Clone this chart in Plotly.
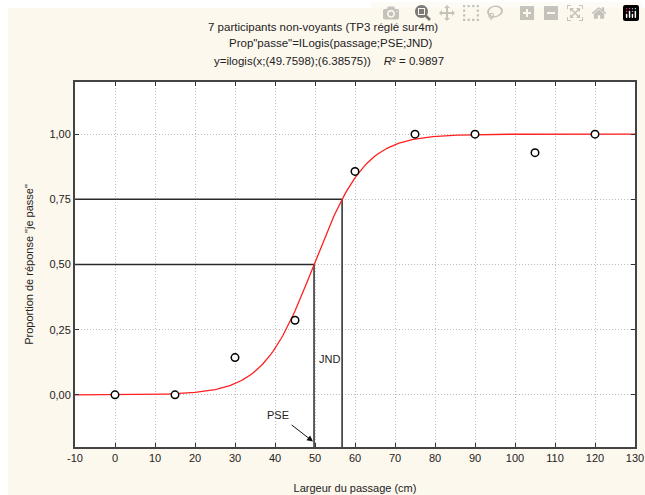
import numpy as np
import plotly.graph_objects as go

# Data
largeur = [0, 15, 30, 45, 60, 75, 90, 105, 120]
proportion = [0.0, 0.0, 0.143, 0.286, 0.857, 1.0, 1.0, 0.929, 1.0]
PSE = 49.7598
JND = 6.38575
x_ticks = [-10, 0, 10, 20, 30, 40, 50, 60, 70, 80, 90, 100, 110, 120, 130]
x_ticklabels = ["-10", "0", "10", "20", "30", "40", "50", "60", "70", "80", "90", "100", "110", "120", "130"]
y_ticks = [0, 0.25, 0.5, 0.75, 1.0]
y_ticklabels = ["0,00", "0,25", "0,50", "0,75", "1,00"]

X_MIN, X_MAX = -10, 130
Y_MIN, Y_MAX = -0.2, 1.2

# fitted logistic curve from the stated parameters
xc = np.linspace(X_MIN, X_MAX, 281)
yc = 1.0 / (1.0 + np.exp(-(xc - PSE) / JND))
x75 = PSE + JND * np.log(3.0)

BG = "#fdf8ee"
FONT = "Liberation Sans, Arial, sans-serif"
LINE = "#2a2a2a"

# figure fills the whole page (body margin removed in post_script)
W, H = 645, 495
PL, PT, PW, PH = 75, 82, 560, 365          # plot area in page pixels
ML, MT = PL, PT
MR, MB = W - ML - PW, H - MT - PH

fig = go.Figure()

# reference lines
fig.add_trace(go.Scatter(x=[X_MIN, x75, x75], y=[0.75, 0.75, Y_MIN], mode="lines",
                         line=dict(color=LINE, width=1.5), hoverinfo="skip", showlegend=False))
fig.add_trace(go.Scatter(x=[X_MIN, PSE, PSE], y=[0.5, 0.5, Y_MIN], mode="lines",
                         line=dict(color=LINE, width=1.5), hoverinfo="skip", showlegend=False))
# curve
fig.add_trace(go.Scatter(x=xc, y=yc, mode="lines", line=dict(color="#ff2020", width=1.3),
                         showlegend=False))
# data
fig.add_trace(go.Scatter(x=largeur, y=proportion, mode="markers",
                         marker=dict(symbol="circle", size=7.5, color="white",
                                     line=dict(color="black", width=1.5)),
                         showlegend=False))

axis_common = dict(showline=True, linecolor="#444", linewidth=2, mirror="ticks",
                   ticks="inside", ticklen=4, tickcolor="#333", tickwidth=1,
                   showgrid=True, gridcolor="#bdbdbd", griddash="1px,2px", gridwidth=1,
                   zeroline=False, automargin=False,
                   tickfont=dict(family=FONT, size=11, color="#222"))

fig.update_xaxes(range=[X_MIN, X_MAX], tickvals=x_ticks, ticktext=x_ticklabels, **axis_common,
                 title=dict(text="Largeur du passage (cm)", font=dict(family=FONT, size=11, color="#222"),
                            standoff=21))
fig.update_yaxes(range=[Y_MIN, Y_MAX], tickvals=y_ticks, ticktext=y_ticklabels, **axis_common,
                 title=dict(text='Proportion de réponse "je passe"', font=dict(family=FONT, size=11, color="#222"),
                            standoff=14))

# thin white strips on the left and top edges, as in the reference
fig.add_shape(type="rect", xref="paper", yref="paper", x0=-PL / PW, x1=(8 - PL) / PW,
              y0=-MB / PH, y1=(PH + MT) / PH, fillcolor="white", line=dict(width=0), layer="below")
fig.add_shape(type="rect", xref="paper", yref="paper", x0=-PL / PW, x1=(W - PL) / PW,
              y0=(PH + MT - 8) / PH, y1=(PH + MT) / PH, fillcolor="white", line=dict(width=0), layer="below")

title_font = dict(family=FONT, size=11.5, color="#222")
anns = [
    dict(text="7 participants non-voyants (TP3 réglé sur4m)", x=323, y=27),
    dict(text='Prop"passe"=ILogis(passage;PSE;JND)', x=331, y=43),
    dict(text="y=ilogis(x;(49.7598);(6.38575))    <i>R</i>² = 0.9897", x=329, y=61),
]
for a in anns:
    fig.add_annotation(text=a["text"], x=(a["x"] - PL) / PW, y=(PT + PH - a["y"]) / PH,
                       xref="paper", yref="paper",
                       showarrow=False, font=title_font, xanchor="center", yanchor="middle")

# JND / PSE labels
fig.add_annotation(text="JND", x=53.6, y=0.137, xref="x", yref="y", showarrow=False,
                   font=dict(family=FONT, size=11, color="#222"))
fig.add_annotation(text="PSE", x=40.8, y=-0.076, xref="x", yref="y", showarrow=False,
                   font=dict(family=FONT, size=11, color="#222"))
fig.add_annotation(text="", x=49.5, y=-0.179, ax=43.8, ay=-0.111, xref="x", yref="y",
                   axref="x", ayref="y", showarrow=True, arrowhead=2, arrowsize=1.2,
                   arrowwidth=1, arrowcolor="#111")

fig.update_layout(width=W, height=H, paper_bgcolor=BG, plot_bgcolor="white",
                  margin=dict(l=ML, r=MR, t=MT, b=MB, autoexpand=False), showlegend=False,
                  font=dict(family=FONT, size=11, color="#222"))

fig.write_html("out.html",
               post_script="document.body.style.margin='0';"
                           "document.documentElement.style.overflow='hidden';")
